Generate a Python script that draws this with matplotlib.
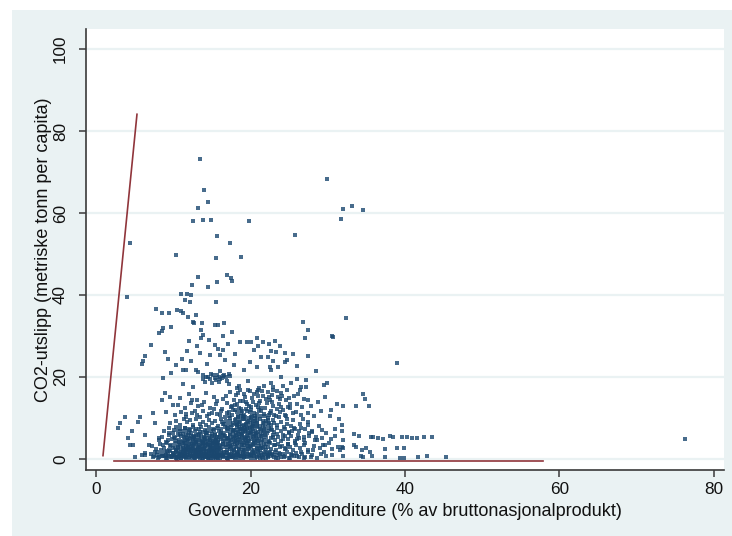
import numpy as np
from matplotlib import pyplot as plt

plt.rcParams['font.family'] = ['Liberation Sans', 'DejaVu Sans']

# country-year observations: (government expenditure % of GDP, CO2 t per capita)
band_0_2 = [
    (6.4, 0.9), (7.1, 1.3), (7.5, 0.6), (7.9, 1.7), (8.2, 0.4), (8.4, 1.1), (8.7, 0.8), (8.9, 1.6),
    (9.1, 0.3), (9.3, 1.2), (9.5, 0.7), (9.6, 1.9), (9.8, 0.5), (10.0, 1.4), (10.1, 0.9), (10.3, 0.2),
    (10.4, 1.7), (10.6, 1.1), (10.7, 0.6), (10.9, 1.5), (11.0, 0.3), (11.1, 1.0), (11.3, 1.8), (11.4, 0.7),
    (11.5, 1.3), (11.7, 0.4), (11.8, 1.6), (11.9, 0.9), (12.1, 0.2), (12.2, 1.2), (12.3, 1.9), (12.4, 0.6),
    (12.6, 1.4), (12.7, 0.8), (12.8, 0.3), (12.9, 1.7), (13.1, 1.0), (13.2, 0.5), (13.3, 1.5), (13.5, 0.2),
    (13.6, 1.1), (13.7, 1.8), (13.8, 0.7), (14.0, 1.3), (14.1, 0.4), (14.2, 1.6), (14.4, 0.9), (14.5, 0.2),
    (14.6, 1.4), (14.8, 0.6), (14.9, 1.9), (15.0, 1.1), (15.2, 0.3), (15.3, 1.5), (15.4, 0.8), (15.6, 1.2),
    (15.7, 0.4), (15.8, 1.7), (16.0, 0.9), (16.1, 0.2), (16.3, 1.4), (16.4, 0.6), (16.6, 1.8), (16.7, 1.0),
    (16.9, 0.3), (17.0, 1.5), (17.2, 0.7), (17.3, 1.2), (17.5, 0.4), (17.6, 1.9), (17.8, 0.9), (17.9, 1.4),
    (18.1, 0.5), (18.2, 1.7), (18.4, 1.0), (18.5, 0.2), (18.7, 1.3), (18.8, 0.7), (19.0, 1.6), (19.1, 0.4),
    (19.3, 1.1), (19.5, 1.8), (19.6, 0.6), (19.8, 1.3), (20.0, 0.3), (20.1, 1.0), (20.3, 1.6), (20.5, 0.7),
    (20.6, 1.2), (20.8, 0.4), (21.0, 1.8), (21.1, 0.9), (21.3, 1.4), (21.5, 0.5), (21.7, 1.1), (21.9, 1.7),
    (22.0, 0.3), (22.2, 0.9), (22.4, 1.5), (22.6, 0.6), (22.8, 1.2), (23.0, 0.4), (23.2, 1.8), (23.4, 0.9),
    (23.7, 1.4), (23.9, 0.5), (24.2, 1.1), (24.5, 0.7), (24.7, 1.6), (25.0, 0.3), (25.3, 1.2), (25.6, 0.8),
    (25.9, 1.5), (26.3, 0.5), (26.7, 1.1), (27.1, 0.4), (27.5, 1.7), (28.0, 0.9), (28.6, 0.3), (29.1, 1.3),
    (29.8, 0.6), (8.0, 0.2), (9.0, 1.0), (10.5, 0.1), (11.6, 0.2), (12.5, 1.0), (13.4, 0.9), (14.3, 0.5),
    (15.1, 1.6), (16.2, 1.1), (17.1, 0.1), (18.3, 1.2), (19.2, 0.8), (20.2, 1.9), (21.2, 0.2), (22.1, 1.3),
    (23.3, 0.2), (13.0, 1.3), (15.5, 0.2), (17.7, 0.6), (19.9, 0.9),
    (8.53, 0.61), (9.17, 0.29), (9.86, 0.83), (10.34, 0.47), (10.96, 0.18), (11.53, 0.64), (12.02, 0.39),
    (12.62, 0.13), (13.27, 0.71), (13.86, 0.26), (14.39, 0.82), (14.86, 0.12), (15.37, 0.53), (15.83, 0.34),
    (16.47, 0.76), (16.98, 0.22), (17.46, 0.93), (17.94, 0.31), (18.58, 0.68), (19.04, 0.15), (19.54, 0.42),
    (20.07, 0.77), (20.58, 0.24), (21.04, 0.63), (21.62, 0.11), (22.27, 0.49), (22.93, 0.86), (23.58, 0.23),
    (24.36, 0.58), (25.17, 0.17), (26.04, 0.74), (26.92, 0.28), (27.84, 0.52),
]
band_2_4 = [
    (7.2, 3.1), (7.8, 2.4), (8.3, 3.6), (8.8, 2.7), (9.2, 3.9), (9.4, 2.2), (9.7, 3.3), (9.9, 2.6),
    (10.2, 3.8), (10.4, 2.3), (10.6, 3.0), (10.8, 3.6), (11.0, 2.5), (11.2, 3.2), (11.4, 2.1), (11.5, 3.8),
    (11.7, 2.8), (11.9, 3.4), (12.0, 2.2), (12.2, 3.0), (12.4, 3.7), (12.5, 2.5), (12.7, 3.3), (12.9, 2.1),
    (13.0, 3.9), (13.2, 2.7), (13.3, 3.4), (13.5, 2.3), (13.7, 3.1), (13.8, 3.8), (14.0, 2.6), (14.2, 3.3),
    (14.3, 2.0), (14.5, 3.6), (14.7, 2.4), (14.9, 3.0), (15.0, 3.8), (15.2, 2.2), (15.4, 3.4), (15.5, 2.8),
    (15.7, 3.9), (15.9, 2.5), (16.1, 3.2), (16.2, 2.1), (16.4, 3.7), (16.6, 2.9), (16.8, 3.4), (16.9, 2.3),
    (17.1, 3.0), (17.3, 3.8), (17.4, 2.5), (17.6, 3.3), (17.8, 2.1), (18.0, 3.6), (18.1, 2.8), (18.3, 3.2),
    (18.5, 2.4), (18.6, 3.9), (18.8, 3.0), (19.0, 2.2), (19.2, 3.5), (19.3, 2.7), (19.5, 3.9), (19.7, 2.4),
    (19.9, 3.2), (20.1, 2.8), (20.3, 3.7), (20.4, 2.1), (20.6, 3.3), (20.8, 2.6), (21.0, 3.8), (21.2, 2.3),
    (21.4, 3.1), (21.6, 2.7), (21.8, 3.6), (22.0, 2.2), (22.3, 3.0), (22.5, 3.8), (22.7, 2.5), (23.0, 3.3),
    (23.3, 2.1), (23.5, 3.7), (23.8, 2.8), (24.1, 3.2), (24.4, 2.4), (24.8, 3.6), (25.1, 2.9), (25.5, 2.2),
    (25.9, 3.4), (26.4, 2.7), (26.9, 3.5), (27.5, 2.3), (28.2, 3.1), (29.0, 2.6), (29.7, 3.3), (30.5, 2.5),
    (31.3, 2.9),
]
band_4_6 = [
    (8.1, 4.6), (8.6, 5.4), (9.0, 4.2), (9.5, 5.8), (9.8, 4.9), (10.1, 5.3), (10.3, 4.4), (10.6, 5.9),
    (10.8, 4.7), (11.0, 5.5), (11.3, 4.1), (11.5, 5.0), (11.6, 5.8), (11.8, 4.5), (12.0, 5.2), (12.2, 4.8),
    (12.3, 5.7), (12.5, 4.3), (12.7, 5.4), (12.8, 4.9), (13.0, 5.9), (13.1, 4.2), (13.3, 5.1), (13.5, 4.6),
    (13.6, 5.6), (13.8, 4.0), (14.0, 5.3), (14.1, 4.8), (14.3, 5.8), (14.5, 4.4), (14.6, 5.1), (14.8, 4.7),
    (15.0, 5.6), (15.1, 4.2), (15.3, 5.0), (15.5, 4.5), (15.7, 5.4), (15.8, 4.1), (16.0, 5.8), (16.2, 4.9),
    (16.4, 5.3), (16.5, 4.3), (16.7, 5.7), (16.9, 4.8), (17.0, 5.2), (17.2, 4.4), (17.4, 5.9), (17.5, 4.6),
    (17.7, 5.4), (17.9, 4.1), (18.0, 5.0), (18.2, 5.7), (18.4, 4.5), (18.5, 5.3), (18.7, 4.9), (18.9, 5.8),
    (19.0, 4.2), (19.2, 5.1), (19.4, 4.7), (19.6, 5.5), (19.7, 4.3), (19.9, 5.9), (20.1, 4.8), (20.3, 5.3),
    (20.5, 4.4), (20.7, 5.7), (20.9, 4.9), (21.1, 5.2), (21.3, 4.2), (21.5, 5.6), (21.8, 4.7), (22.0, 5.4),
    (22.3, 4.3), (22.6, 5.0), (22.9, 5.8), (23.2, 4.6), (23.6, 5.3), (24.0, 4.4), (24.4, 5.7), (24.9, 4.8),
    (25.3, 5.5), (25.8, 4.3), (26.3, 5.2), (26.9, 4.7), (27.6, 5.6), (28.4, 4.5), (29.3, 5.1),
]
band_6_10 = [
    (8.8, 6.9), (9.4, 7.5), (9.9, 6.3), (10.3, 7.8), (10.6, 6.7), (10.9, 7.3), (11.2, 6.1), (11.5, 7.6),
    (11.7, 6.8), (12.0, 7.2), (12.3, 6.4), (12.5, 7.9), (12.8, 6.9), (13.0, 7.4), (13.3, 6.2), (13.6, 7.7),
    (13.8, 6.6), (14.1, 7.1), (14.4, 6.4), (14.6, 7.8), (14.9, 6.9), (15.2, 7.3), (15.4, 6.1), (15.7, 7.6),
    (15.9, 6.7), (16.2, 7.2), (16.4, 6.3), (16.7, 7.9), (16.9, 6.8), (17.1, 7.4), (17.3, 6.2), (17.5, 7.7),
    (17.7, 6.6), (17.9, 7.1), (18.1, 6.4), (18.3, 7.8), (18.5, 6.9), (18.7, 7.3), (18.9, 6.1), (19.1, 7.6),
    (19.3, 6.7), (19.5, 7.2), (19.7, 6.4), (19.9, 7.9), (20.1, 6.8), (20.3, 7.4), (20.5, 6.2), (20.8, 7.7),
    (21.0, 6.6), (21.3, 7.1), (21.6, 6.3), (21.9, 7.8), (22.2, 6.9), (22.6, 7.3), (23.0, 6.5), (23.4, 7.6),
    (23.9, 6.8), (24.4, 7.2), (25.0, 6.4), (25.6, 7.5), (26.3, 6.9), (27.1, 7.3), (28.0, 6.6), (29.2, 7.0),
    (9.6, 8.7), (10.4, 9.3), (10.9, 8.4), (11.4, 9.7), (11.8, 8.9), (12.2, 9.4), (12.6, 8.2), (13.0, 9.8),
    (13.4, 8.6), (13.8, 9.1), (14.2, 8.3), (14.6, 9.6), (15.0, 8.8), (15.4, 9.3), (15.8, 8.1), (16.2, 9.7),
    (16.5, 8.5), (16.8, 9.2), (17.1, 8.3), (17.4, 9.9), (17.7, 8.7), (18.0, 9.4), (18.2, 8.2), (18.5, 9.1),
    (18.7, 8.6), (19.0, 9.8), (19.2, 8.4), (19.5, 9.3), (19.7, 8.9), (20.0, 9.6), (20.3, 8.3), (20.6, 9.2),
    (20.9, 8.7), (21.2, 9.8), (21.6, 8.4), (22.0, 9.3), (22.4, 8.8), (22.9, 9.5), (23.4, 8.2), (24.0, 9.1),
    (24.7, 8.6), (25.5, 9.4), (26.4, 8.5), (27.5, 9.0),
]
# the low-spending hump (roughly 10-16 %)
hump_a = [
    (10.23, 2.87), (10.71, 4.12), (11.05, 1.63), (11.38, 5.44), (11.62, 3.27), (11.84, 0.95), (12.07, 6.31),
    (12.29, 2.44), (12.53, 4.78), (12.76, 1.21), (12.98, 3.66), (13.21, 5.92), (13.43, 2.08), (13.67, 4.39),
    (13.89, 0.67), (14.12, 3.05), (14.36, 6.74), (14.58, 1.87), (14.81, 4.56), (15.04, 2.63), (15.27, 7.18),
    (15.49, 3.91), (15.72, 1.42), (15.95, 5.26), (10.47, 0.58), (10.88, 3.41), (11.19, 6.83), (11.51, 2.19),
    (11.77, 4.91), (12.14, 1.37), (12.41, 3.84), (12.66, 5.63), (12.91, 0.83), (13.15, 2.96), (13.38, 7.42),
    (13.62, 1.58), (13.84, 3.71), (14.07, 5.12), (14.29, 2.31), (14.53, 0.44), (14.77, 3.52), (15.01, 6.07),
    (15.23, 1.93), (15.46, 4.24), (15.69, 2.77), (15.91, 0.71), (9.62, 3.18), (9.93, 1.47), (10.16, 5.07),
    (10.52, 2.24), (10.83, 6.12), (11.14, 0.77), (11.43, 3.93), (11.69, 1.89), (11.97, 4.47), (12.22, 7.07),
    (12.47, 2.62), (12.71, 0.49), (12.97, 4.22), (13.26, 1.69), (13.51, 6.46), (13.74, 2.52), (13.97, 4.86),
    (14.22, 1.04), (14.46, 3.37), (14.69, 5.58), (14.93, 0.91), (15.17, 3.22), (15.41, 5.84), (15.64, 2.13),
    (15.86, 3.46), (10.07, 7.13), (10.61, 0.36), (11.27, 2.71), (11.91, 5.77), (12.58, 3.11), (13.09, 0.62),
    (13.58, 4.04), (14.18, 6.22), (14.72, 2.18), (15.33, 0.88), (15.84, 4.69), (10.39, 1.95), (11.58, 7.54),
    (12.84, 2.29), (13.94, 1.31), (14.97, 3.83), (8.41, 2.13), (8.93, 0.74), (9.27, 4.56), (8.67, 3.32),
    (9.14, 1.84), (9.71, 0.47), (7.83, 1.06), (8.21, 5.21), (9.48, 6.38), (7.36, 0.52),
    (10.12, 0.92), (10.58, 2.63), (10.93, 1.28), (11.22, 4.37), (11.47, 0.53), (11.74, 2.37), (12.03, 3.56),
    (12.36, 0.78), (12.62, 1.86), (12.88, 4.62), (13.13, 1.44), (13.47, 3.27), (13.71, 0.34), (13.99, 2.21),
    (14.26, 4.13), (14.49, 1.16), (14.74, 2.84), (15.08, 0.66), (15.36, 2.46), (15.58, 4.83), (15.79, 1.07),
    (11.33, 1.12), (11.96, 2.67), (12.51, 5.36), (13.04, 2.53), (13.56, 1.07), (14.02, 3.92), (14.61, 0.28),
    (15.12, 4.48), (15.66, 3.63),
]
# the second, taller hump (roughly 16-23 %)
hump_b = [
    (16.13, 6.34), (16.38, 3.58), (16.61, 8.47), (16.84, 1.72), (17.07, 5.13), (17.29, 9.36), (17.53, 2.86),
    (17.76, 6.92), (17.98, 4.27), (18.21, 8.84), (18.43, 1.56), (18.67, 6.07), (18.89, 3.43), (19.12, 9.71),
    (19.36, 5.47), (19.58, 7.63), (19.81, 2.58), (20.04, 6.56), (20.27, 8.12), (20.49, 3.97), (20.73, 5.86),
    (20.96, 1.83), (21.19, 7.27), (21.43, 4.58), (21.67, 9.17), (21.91, 2.92), (22.17, 6.43), (22.44, 4.13),
    (22.71, 8.31), (16.27, 9.08), (16.49, 0.57), (16.73, 4.42), (16.97, 7.66), (17.18, 0.97), (17.42, 4.83),
    (17.64, 8.28), (17.87, 2.43), (18.09, 5.76), (18.33, 10.12), (18.56, 4.06), (18.78, 7.42), (19.02, 1.14),
    (19.24, 4.91), (19.47, 8.56), (19.69, 3.07), (19.93, 6.24), (20.16, 10.41), (20.39, 1.37), (20.61, 4.72),
    (20.84, 7.93), (21.07, 3.22), (21.32, 5.51), (21.56, 0.84), (21.79, 6.79), (22.04, 3.56), (22.31, 9.62),
    (22.57, 1.71), (22.86, 5.27), (16.06, 2.71), (16.57, 5.94), (17.12, 3.62), (17.58, 0.46), (18.03, 7.04),
    (18.48, 2.27), (18.94, 8.04), (19.41, 6.62), (19.86, 4.41), (20.32, 9.27), (20.78, 2.33), (21.24, 6.17),
    (21.71, 8.68), (22.23, 0.63), (22.79, 7.08), (18.17, 4.67), (18.61, 9.45), (19.06, 6.81), (19.52, 3.74),
    (19.97, 8.87), (20.43, 5.63), (20.87, 10.03), (18.38, 6.47), (18.84, 5.12), (19.29, 7.36), (19.74, 9.95),
    (20.21, 7.71), (20.66, 6.38), (19.17, 2.16), (18.72, 10.58), (23.14, 3.44), (23.47, 6.13), (23.83, 1.29),
    (24.18, 4.76), (24.56, 2.68), (24.93, 6.57), (25.34, 0.92), (25.72, 3.87), (26.14, 5.94), (26.58, 1.61),
    (27.03, 3.77), (27.52, 6.24), (28.07, 2.14), (28.64, 4.63), (29.45, 1.78), (30.12, 3.96), (23.05, 8.79),
    (23.66, 10.27), (24.31, 7.84), (24.75, 9.66), (25.19, 8.13), (25.82, 7.37), (26.73, 9.71),
    (17.34, 3.27), (17.81, 5.53), (18.27, 3.84), (18.73, 5.97), (19.21, 3.98), (19.63, 5.21), (20.09, 3.48),
    (20.52, 6.84), (20.95, 4.37), (21.42, 2.68), (21.87, 5.72), (22.36, 7.64), (17.52, 7.18), (18.06, 8.63),
    (18.47, 7.76), (18.99, 7.03), (19.45, 8.27), (19.91, 7.48), (20.38, 8.58), (20.82, 8.94), (21.29, 8.06),
    (21.74, 7.41), (22.21, 8.47), (17.21, 10.56), (17.68, 11.83), (18.14, 9.67), (18.52, 12.46),
    (18.91, 11.67), (19.33, 10.12), (19.79, 12.88), (20.12, 11.84), (20.54, 9.88), (20.97, 12.57),
    (21.38, 10.47), (21.84, 12.34), (22.26, 9.91), (22.69, 11.78), (23.28, 10.41), (23.92, 12.78),
    (24.43, 10.84), (25.07, 13.42), (25.86, 11.47), (26.71, 12.68), (27.44, 11.24),
]
# right-hand tail of the main cloud (24-31 %)
tail = [
    (24.23, 5.84), (24.87, 3.71), (25.42, 6.92), (25.97, 4.86), (26.48, 7.63), (26.97, 5.41), (27.38, 8.37),
    (27.91, 6.86), (28.43, 5.36), (28.87, 7.92), (29.33, 3.47), (29.81, 6.26), (30.37, 4.78), (30.93, 7.34),
    (31.46, 9.86), (28.18, 10.43), (29.07, 11.62), (27.86, 12.87), (28.74, 13.96), (29.62, 15.12),
    (26.38, 16.93), (27.19, 17.56), (30.24, 10.47),
]
band_10_22 = [
    (10.2, 10.8), (11.0, 11.5), (11.7, 10.3), (12.4, 11.2), (13.1, 10.6), (13.8, 11.8), (14.4, 10.4),
    (15.0, 11.3), (15.6, 10.9), (16.2, 11.7), (16.7, 10.2), (17.2, 11.4), (17.6, 10.7), (18.0, 11.9),
    (18.4, 10.5), (18.8, 11.1), (19.2, 10.8), (19.6, 11.6), (20.0, 10.3), (20.4, 11.2), (20.9, 10.9),
    (21.4, 11.7), (21.9, 10.4), (22.5, 11.3), (23.1, 10.7), (23.8, 11.5), (24.6, 10.5), (25.5, 11.1),
    (26.5, 10.8), (10.6, 13.1), (11.5, 12.4), (12.3, 13.6), (13.2, 12.8), (14.0, 13.9), (14.8, 12.5),
    (15.5, 13.3), (16.3, 12.2), (17.0, 13.7), (17.6, 12.9), (18.2, 13.4), (18.8, 12.3), (19.4, 13.8),
    (20.0, 12.7), (20.7, 13.2), (21.4, 12.4), (22.1, 13.6), (22.9, 12.9), (23.7, 13.3), (24.8, 12.6),
    (26.0, 13.5), (10.9, 14.9), (12.0, 15.8), (13.1, 14.5), (14.2, 16.2), (15.3, 15.1), (16.4, 14.6),
    (17.3, 16.4), (18.1, 15.6), (18.7, 16.8), (19.3, 15.2), (19.9, 16.5), (20.5, 15.9), (21.0, 16.7),
    (21.6, 15.4), (22.2, 16.3), (22.8, 15.7), (23.4, 16.6), (24.1, 15.3), (25.0, 14.8), (26.2, 15.9),
    (27.5, 14.4), (11.3, 18.2), (12.6, 17.6), (13.9, 19.4), (14.3, 20.1), (14.7, 19.6), (15.1, 20.4),
    (15.5, 19.2), (15.9, 20.0), (16.3, 19.7), (16.6, 20.6), (17.0, 19.0), (17.4, 20.3), (17.2, 18.4),
    (18.5, 17.8), (19.7, 18.9), (21.1, 17.4), (22.6, 18.6), (24.2, 17.9), (13.2, 21.2), (16.1, 21.4),
    (11.63, 10.94), (12.84, 11.63), (13.52, 10.26), (14.63, 11.08), (15.27, 12.17), (16.02, 10.62),
    (16.91, 11.22), (17.43, 12.71), (18.26, 11.43), (18.97, 10.38), (19.43, 12.24), (19.88, 11.34),
    (20.63, 10.59), (21.16, 12.02), (21.73, 11.07), (22.36, 10.83), (23.47, 12.11), (24.26, 11.96),
    (25.13, 12.33), (17.84, 14.47), (19.03, 14.21), (20.24, 14.86), (21.27, 14.03), (22.54, 14.39),
    (23.86, 14.62), (18.43, 16.12), (20.86, 16.27), (22.41, 15.16), (15.67, 14.18), (16.81, 15.47),
    (13.73, 13.12), (12.47, 14.26),
    (17.93, 13.08), (18.68, 14.02), (19.57, 13.36), (20.33, 13.91), (21.08, 13.54), (21.96, 14.68),
    (22.73, 13.97), (23.52, 15.18), (24.57, 14.26), (25.62, 15.43), (26.86, 14.71), (19.18, 15.84),
    (19.64, 16.93), (20.91, 15.27), (21.47, 16.48), (22.94, 16.72), (23.91, 15.97), (24.73, 16.84),
    (18.26, 17.32), (21.78, 17.91), (13.86, 20.44), (14.46, 19.87), (14.92, 20.73), (15.34, 19.63),
    (15.72, 20.58), (16.08, 19.41), (16.47, 20.17), (16.84, 19.93), (17.21, 20.81), (14.12, 18.86),
    (15.03, 18.47), (15.96, 18.73),
]
# scattered high emitters and the sparse left / right edges
sparse = [
    (13.4, 73.1), (14.0, 65.5), (14.5, 62.8), (13.2, 61.3), (12.6, 58.1), (13.9, 58.4), (14.9, 58.3),
    (19.8, 58.1), (15.6, 54.4), (17.4, 52.6), (10.4, 49.7), (15.5, 49.0), (18.8, 49.3), (13.2, 44.4),
    (16.9, 44.9), (17.5, 44.1), (29.9, 68.2), (32.0, 61.1), (33.1, 61.8), (34.6, 60.7), (31.7, 58.5),
    (25.8, 54.6), (4.4, 52.6), (4.0, 39.5), (12.4, 42.4), (14.5, 42.0), (15.6, 43.1), (11.0, 40.2),
    (11.8, 40.2), (12.3, 39.9), (11.5, 38.8), (12.2, 38.2), (7.7, 36.5), (8.5, 35.5), (9.5, 35.7),
    (10.5, 36.3), (11.0, 36.2), (11.3, 35.5), (11.9, 34.7), (13.0, 35.1), (12.5, 33.5), (12.7, 33.2),
    (13.7, 33.1), (15.4, 32.7), (15.8, 32.7), (15.5, 38.4), (8.7, 32.0), (9.7, 32.1), (8.5, 31.2),
    (8.1, 30.7), (13.6, 31.5), (13.9, 30.2), (13.6, 29.4), (7.1, 27.7), (8.9, 26.2), (6.3, 25.1),
    (6.1, 24.0), (6.0, 23.2), (11.1, 24.3), (13.5, 25.9), (14.8, 25.4), (16.1, 25.4), (15.4, 27.8),
    (15.8, 26.8), (9.7, 20.9), (8.7, 19.7), (11.2, 21.7), (11.7, 21.7), (13.0, 21.7), (16.5, 26.6),
    (16.7, 24.1), (17.6, 43.5), (26.8, 33.3), (32.4, 34.3), (27.4, 31.5), (27.1, 29.4), (30.7, 29.8),
    (27.4, 25.2), (16.6, 33.1), (17.6, 31.0), (16.5, 30.0), (18.7, 28.6), (19.6, 28.6), (20.0, 28.6),
    (20.9, 29.4), (21.6, 28.6), (21.0, 27.6), (22.4, 28.0), (23.2, 28.8), (23.8, 27.6), (20.4, 26.6),
    (22.7, 26.4), (18.0, 25.6), (22.2, 24.8), (22.9, 24.0), (24.5, 25.8), (25.5, 25.6), (24.7, 24.1),
    (24.4, 23.7), (20.8, 22.4), (22.5, 22.4), (22.7, 21.7), (23.6, 22.4), (24.0, 20.1), (26.0, 19.5),
    (27.2, 19.3), (29.9, 18.6), (29.5, 18.0), (25.3, 18.5), (26.6, 17.5), (22.9, 17.5), (30.6, 30.0),
    (38.9, 23.3), (34.5, 15.9), (34.8, 14.6), (35.4, 12.9), (33.7, 12.8), (32.0, 12.8), (31.2, 13.4),
    (30.4, 12.0), (31.8, 8.3), (31.8, 6.7), (30.9, 5.6), (32.0, 4.6), (33.4, 6.1), (34.1, 5.6),
    (35.6, 5.4), (35.9, 5.3), (36.5, 5.0), (37.2, 4.8), (38.1, 5.6), (38.4, 5.4), (39.6, 5.3),
    (40.2, 5.3), (40.9, 5.0), (41.6, 5.0), (42.5, 5.4), (43.5, 5.3), (32.0, 2.6), (31.8, 3.0),
    (31.6, 2.2), (33.4, 3.4), (33.7, 2.9), (34.4, 2.2), (35.0, 2.6), (35.5, 1.8), (37.4, 2.4),
    (38.9, 2.6), (39.9, 2.6), (30.6, 1.0), (32.0, 0.6), (34.3, 0.6), (34.6, 0.4), (35.7, 0.6),
    (37.4, 0.4), (39.4, 0.3), (39.9, 0.3), (41.7, 0.4), (42.8, 0.6), (45.3, 0.4), (76.3, 4.9),
    (2.9, 7.5), (3.1, 8.7), (3.75, 10.3), (4.6, 6.7), (4.2, 5.0), (4.8, 3.4), (4.4, 3.4), (5.0, 0.4),
    (5.4, 9.1), (5.7, 10.3), (6.3, 5.9), (6.8, 3.4), (7.4, 11.1), (7.6, 8.7), (7.6, 1.8), (8.5, 14.4),
    (8.9, 16.0), (9.6, 15.2), (10.0, 13.2), (9.1, 11.5), (6.3, 1.4), (5.9, 1.0),
    (11.73, 26.31), (12.28, 23.87), (13.08, 27.46), (14.39, 23.26), (17.83, 22.96), (19.12, 21.73),
    (19.94, 23.63), (21.36, 24.91), (23.27, 26.13), (25.98, 22.64), (28.43, 21.38), (12.02, 28.68),
    (14.61, 29.11), (17.12, 27.93), (10.33, 22.83), (9.37, 24.37),
]

# the two red reference lines
line_a_x = [0.9, 5.3]
line_a_y = [0.8, 84.1]
line_b_x = [2.3, 57.9]
line_b_y = [-0.6, -0.6]

x_ticks = [0, 20, 40, 60, 80]
y_ticks = [0, 20, 40, 60, 80, 100]

pts = np.array(band_0_2 + band_2_4 + band_4_6 + band_6_10 + hump_a + hump_b + tail + band_10_22 + sparse)
gov_exp = pts[:, 0]
co2 = pts[:, 1]

bg = '#EAF2F3'
fig = plt.figure(figsize=(7.32, 5.36), dpi=100, facecolor=bg)
# white margin strips along the top and left edge of the image
fig.patches.append(plt.Rectangle((0, 1 - 10 / 536), 1, 10 / 536, transform=fig.transFigure,
                                 facecolor='white', edgecolor='none'))
fig.patches.append(plt.Rectangle((0, 0), 12 / 732, 1, transform=fig.transFigure,
                                 facecolor='white', edgecolor='none'))
ax = fig.add_axes([86 / 732, 1 - 470 / 536, 638 / 732, 441 / 536])
ax.set_facecolor('white')

ax.scatter(gov_exp, co2, s=6.5, marker='s', c='#1A476F', linewidths=0, alpha=0.8, zorder=3)
ax.plot(line_a_x, line_a_y, color='#90353B', lw=1.2, zorder=4)
ax.plot(line_b_x, line_b_y, color='#90353B', lw=1.2, zorder=4)

ax.set_xlim(-1.3, 81.3)
ax.set_ylim(-2.7, 104.9)
ax.set_xticks(x_ticks)
ax.set_yticks(y_ticks)
ax.yaxis.grid(True, color=bg, lw=1.6, zorder=0)
ax.set_axisbelow(True)

for side in ['top', 'right']:
    ax.spines[side].set_visible(False)
for side in ['left', 'bottom']:
    ax.spines[side].set_color('#3a3a3a')
    ax.spines[side].set_linewidth(1.2)
ax.tick_params(axis='both', length=5, width=1.1, color='#3a3a3a', labelsize=12.3, labelcolor='#111111')
ax.tick_params(axis='x', pad=4)
ax.tick_params(axis='y', pad=8)
plt.setp(ax.get_yticklabels(), rotation=90, va='center')

ax.set_xlabel('Government expenditure (% av bruttonasjonalprodukt)', fontsize=13, color='#111111', labelpad=4)
ax.set_ylabel('CO2-utslipp (metriske tonn per capita)', fontsize=13, color='#111111', labelpad=1)

plt.savefig('out.png', dpi=100, facecolor=bg)
plt.close()
